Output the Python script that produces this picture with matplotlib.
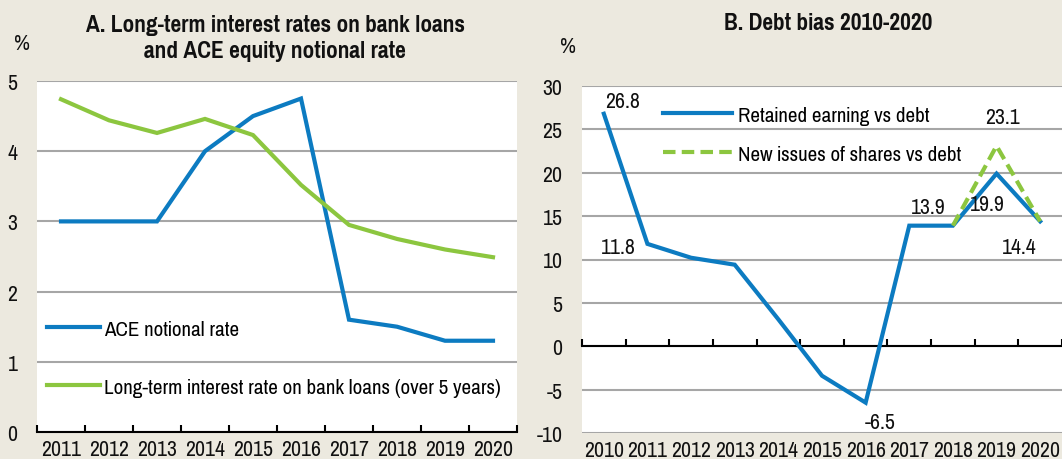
import matplotlib
matplotlib.use('Agg')
import matplotlib.pyplot as plt
import numpy as np

# ---------------- data ----------------
years_a = ['2011', '2012', '2013', '2014', '2015', '2016', '2017', '2018', '2019', '2020']
ace_rate = [3.0, 3.0, 3.0, 4.0, 4.5, 4.75, 1.6, 1.5, 1.3, 1.3]
bank_rate = [4.74, 4.44, 4.26, 4.46, 4.23, 3.52, 2.95, 2.75, 2.60, 2.49]

years_b = ['2010', '2011', '2012', '2013', '2014', '2015', '2016', '2017', '2018', '2019', '2020']
retained = [26.8, 11.8, 10.2, 9.4, 3.1, -3.4, -6.5, 13.9, 13.9, 19.9, 14.4]
new_issue_years = ['2018', '2019', '2020']
new_issues = [13.9, 23.1, 14.4]

# annotations: (year, value, text, dx_px, dy_px)
labels_b = [('2010', 26.8, '26.8', 19, 13),
            ('2011', 11.8, '11.8', -29, -3),
            ('2016', -6.5, '-6.5', 15, -19),
            ('2018', 13.9, '13.9', -25, 19),
            ('2019', 19.9, '19.9', -9, -30),
            ('2019', 23.1, '23.1', 6, 29),
            ('2020', 14.4, '14.4', -21, -26)]

BG = '#ECE9DF'
BLUE = '#0C7BC1'
GREEN = '#8CC63F'
GRID = '#A6A6A6'
TXT = '#111111'

plt.rcParams['font.family'] = ['Pragati Narrow', 'Liberation Sans', 'DejaVu Sans']
plt.rcParams['axes.unicode_minus'] = False
FS = 17      # tick labels / annotations
FL = 16.4    # legend
FT = 18.3    # titles

fig = plt.figure(figsize=(10.62, 4.6), dpi=100, facecolor=BG)

# ---------------- Panel A ----------------
axA = fig.add_axes([37/1062, (460-433)/460, 480/1062, 351/460])
xa = np.arange(len(years_a))
axA.plot(xa, ace_rate, color=BLUE, lw=3, label='ACE notional rate', solid_joinstyle='miter')
axA.plot(xa, bank_rate, color=GREEN, lw=3, label='Long-term interest rate on bank loans (over 5 years)',
         solid_joinstyle='miter')
axA.set_xlim(-0.5, len(years_a) - 0.5)
axA.set_ylim(0, 5)
axA.set_yticks(range(0, 6))
axA.yaxis.grid(True, color=GRID, lw=1.5)
axA.set_axisbelow(True)
for s in ['top', 'right', 'left']:
    axA.spines[s].set_visible(False)
axA.spines['bottom'].set_color('black')
axA.spines['bottom'].set_linewidth(1.5)
axA.set_xticks(xa, years_a)
axA.set_xticks(np.arange(-0.5, len(years_a)), minor=True)
axA.tick_params(axis='x', which='major', length=0, pad=5, labelsize=FS, labelcolor=TXT)
axA.tick_params(axis='x', which='minor', direction='in', length=5, width=1.5, color='black')
axA.tick_params(axis='y', length=0, pad=14, labelsize=FS, labelcolor=TXT)
axA.legend(loc='upper left', bbox_to_anchor=(0.021, 0.321), frameon=False, fontsize=FL,
           handlelength=2.32, handletextpad=0.18, labelspacing=1.65, borderpad=0, borderaxespad=0)
fig.text(22/1062, 1 - 44/460, '%', fontsize=FS, ha='center', va='center', color=TXT)
fig.text(275/1062, 1 - 38.5/460, 'A. Long-term interest rates on bank loans\nand ACE equity notional rate',
         fontsize=FT, fontweight='bold', ha='center', va='center', color=TXT, linespacing=1.3)

# ---------------- Panel B ----------------
axB = fig.add_axes([582/1062, (460-434)/460, 480/1062, 347/460])
xb = np.arange(len(years_b))
xn = [years_b.index(y) for y in new_issue_years]
axB.plot(xb, retained, color=BLUE, lw=3, label='Retained earning vs debt', solid_joinstyle='miter')
axB.plot(xn, new_issues, color=GREEN, lw=3, ls=(0, (3, 1.5)), label='New issues of shares vs debt')
axB.set_xlim(-0.5, len(years_b) - 0.5)
axB.set_ylim(-10, 30)
axB.set_yticks(range(-10, 31, 5))
axB.yaxis.grid(True, color=GRID, lw=1.5)
axB.set_axisbelow(True)
for s in ['top', 'right', 'left']:
    axB.spines[s].set_visible(False)
axB.spines['bottom'].set_position(('data', 0))
axB.spines['bottom'].set_color('black')
axB.spines['bottom'].set_linewidth(1.5)
axB.spines['bottom'].set_zorder(1.5)
axB.set_xticks(xb)
axB.set_xticks(np.arange(-0.5, len(years_b)), minor=True)
axB.tick_params(axis='x', which='major', length=0, labelbottom=False)
axB.tick_params(axis='x', which='minor', direction='in', length=5, width=1.5, color='black')
axB.tick_params(axis='y', length=0, pad=14, labelsize=FS, labelcolor=TXT)
sec = axB.secondary_xaxis('bottom')
sec.set_xticks(xb, years_b)
sec.tick_params(length=0, pad=5, labelsize=FS, labelcolor=TXT)
sec.spines['bottom'].set_visible(False)
for yr, val, txt, dx, dy in labels_b:
    axB.annotate(txt, xy=(years_b.index(yr), val), xytext=(dx, dy), textcoords='offset pixels',
                 ha='center', va='center', fontsize=FS, color=TXT)
axB.legend(loc='upper left', bbox_to_anchor=(0.169, 0.946), frameon=False, fontsize=FL,
           handlelength=3.03, handletextpad=0.26, labelspacing=0.87, borderpad=0, borderaxespad=0)
fig.text(568/1062, 1 - 47/460, '%', fontsize=FS, ha='center', va='center', color=TXT)
fig.text(828/1062, 1 - 23.5/460, 'B. Debt bias 2010-2020',
         fontsize=FT, fontweight='bold', ha='center', va='center', color=TXT)

fig.savefig('out.png', dpi=100, facecolor=BG)
